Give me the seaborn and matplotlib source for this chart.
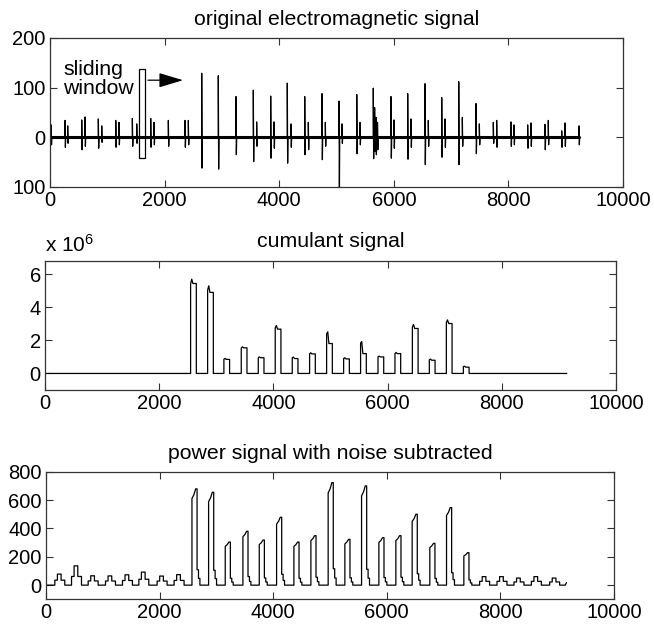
import numpy as np
import pandas as pd
import matplotlib
matplotlib.use("Agg")
import matplotlib.pyplot as plt
import seaborn as sns

# --- data ---
# top panel: spike trains of the raw signal (position, upward peak, downward peak)
big_x = [2647, 2937, 3246, 3548, 3851, 4141, 4445, 4747, 5044, 5353, 5642, 5951, 6242, 6544, 6836, 7133, 7435]
big_up = [129, 124, 82, 95, 83, 109, 82, 88, 73, 86, 99, 82, 88, 108, 80, 112, 68]
big_dn = [-62, -64, -35, -49, -42, -52, -35, -45, -120, -33, -43, -42, -44, -55, -40, -55, -33]

small_x = [20, 262, 308, 553, 611, 843, 902, 1147, 1204, 1437, 1513, 1757, 1815, 2065, 2356, 2414,
           3606, 3909, 4205, 4508, 4805, 5096, 5410, 5665, 5690, 5715, 6003, 6300, 6602, 6894, 7196,
           7493, 7737, 7795, 8045, 8098, 8336, 8394, 8638, 8696, 8930, 8988, 9232]
small_up = [25, 34, 23, 35, 41, 37, 23, 34, 30, 38, 27, 38, 30, 34, 34, 34,
            31, 31, 27, 30, 30, 27, 30, 60, 40, 30, 35, 37, 34, 37, 40,
            27, 30, 34, 31, 25, 25, 29, 26, 34, 13, 29, 23]
small_dn = [-15, -20, -12, -25, -18, -22, -10, -20, -15, -18, -12, -20, -15, -18, -20, -15,
            -18, -22, -20, -25, -18, -12, -15, -28, -35, -25, -22, -20, -18, -20, -18,
            -15, -12, -20, -18, -15, -22, -18, -25, -15, -20, -18, -15]
signal_end = 9232

# middle panel: cumulant pulses (x 10^6)
cum_rise = [2550, 2848, 3133, 3437, 3735, 4032, 4330, 4634, 4932, 5230, 5527, 5832, 6129, 6434, 6731, 7029, 7327]
cum_peak = [5.70, 5.30, 0.91, 1.61, 1.00, 2.90, 0.99, 1.25, 2.52, 0.95, 1.93, 1.05, 1.27, 2.96, 0.87, 3.24, 0.44]
cum_tail = [5.44, 4.90, 0.85, 1.55, 0.95, 2.68, 0.90, 1.18, 1.81, 0.88, 1.20, 1.00, 1.20, 2.72, 0.80, 3.02, 0.38]
cum_end = 9139

# bottom panel: power pulses
pow_rise = [2570, 2863, 3156, 3467, 3755, 4060, 4365, 4664, 4968, 5262, 5556, 5861, 6160, 6447, 6758, 7052, 7357]
pow_peak = [679, 655, 304, 380, 318, 479, 304, 349, 723, 323, 700, 335, 349, 500, 295, 547, 229]
bump_x = [246, 540, 833, 1138, 1437, 1725, 2047, 2346, 7725, 8031, 8330, 8636, 8958]
bump_h = [78, 136, 66, 65, 73, 92, 64, 74, 60, 60, 50, 60, 50]
pow_end = 9163

# pulse profiles (offset in samples, relative level)
cum_off = [0, 0, 20, 40, 100, 100]
pow_off = [0, 0, 35, 65, 90, 90, 115, 115, 140, 140]
pow_lvl = [0, 0.9, 0.94, 1.0, 1.0, 0.16, 0.16, 0.07, 0.07, 0]
bump_off = [-90, -90, -45, -45, 20, 20, 85, 85]
bump_lvl = [0, 0.45, 0.45, 1.0, 1.0, 0.45, 0.45, 0]

# --- build line tables ---
sx, sy = [], []
for x, u, d in sorted(zip(big_x + small_x, big_up + small_up, big_dn + small_dn)):
    sx += [x, x, x + 6, x + 12]
    sy += [0, u, d, 0]
spikes = pd.DataFrame({"x": sx, "y": sy})

cx, cy = [0], [0]
for r, p, t in zip(cum_rise, cum_peak, cum_tail):
    cx += [r + o for o in cum_off]
    cy += [0, 0.95 * p, p, t, t, 0]
cx.append(cum_end)
cy.append(0)
cumulant = pd.DataFrame({"x": cx, "y": cy})

events = [(r, h, pow_off, pow_lvl) for r, h in zip(pow_rise, pow_peak)]
events += [(b, h, bump_off, bump_lvl) for b, h in zip(bump_x, bump_h)]
px, py = [0], [0]
for c, h, off, lvl in sorted(events):
    px += [c + o for o in off]
    py += [h * l for l in lvl]
px += [pow_end - 20, pow_end]
py += [0, 18]
power = pd.DataFrame({"x": px, "y": py})

# --- style ---
sns.set_style("ticks")
plt.rcParams["font.family"] = ["Liberation Sans", "DejaVu Sans"]
plt.rcParams["mathtext.default"] = "regular"
plt.rcParams["xtick.direction"] = "in"
plt.rcParams["ytick.direction"] = "in"
plt.rcParams["text.color"] = "black"
plt.rcParams["xtick.labelcolor"] = "black"
plt.rcParams["ytick.labelcolor"] = "black"

fig = plt.figure(figsize=(6.54, 6.33), dpi=100)
ax1 = fig.add_axes([0.0765, 0.7046, 0.8761, 0.2354])
ax2 = fig.add_axes([0.0688, 0.3839, 0.8731, 0.2038])
ax3 = fig.add_axes([0.0703, 0.0532, 0.8685, 0.2016])

# top: raw signal
ax1.plot([0, signal_end], [0, 0], color="black", lw=2.2)
sns.lineplot(data=spikes, x="x", y="y", sort=False, estimator=None, color="black", lw=0.9, ax=ax1)
ax1.set_ylim(-100, 200)
ax1.set_yticks([-100, 0, 100, 200])
ax1.set_yticklabels(["100", "0", "100", "200"])
ax1.set_title("original electromagnetic signal", fontsize=15.3, pad=9, color="black")
ax1.add_patch(plt.Rectangle((1545, -42), 115, 180, fill=False, lw=0.9, ec="black"))
ax1.annotate("", xy=(2370, 115), xytext=(1660, 115),
             arrowprops=dict(arrowstyle="-|>,head_length=1.5,head_width=0.45", color="black", lw=0.9))
ax1.text(230, 117, "sliding\nwindow", fontsize=15.3, va="center", ha="left", linespacing=1.0)

# middle: cumulant
sns.lineplot(data=cumulant, x="x", y="y", sort=False, estimator=None, color="black", lw=0.9, ax=ax2)
ax2.set_ylim(-1, 6.8)
ax2.set_yticks([0, 2, 4, 6])
ax2.set_title("cumulant signal", fontsize=15.3, pad=10, color="black")
ax2.text(0, 1.04, "x 10$^{6}$", transform=ax2.transAxes, fontsize=15, ha="left", va="bottom")

# bottom: power
sns.lineplot(data=power, x="x", y="y", sort=False, estimator=None, color="black", lw=0.9, ax=ax3)
ax3.set_ylim(-100, 800)
ax3.set_yticks([0, 200, 400, 600, 800])
ax3.set_title("power signal with noise subtracted", fontsize=15.3, pad=9, color="black")

for ax in (ax1, ax2, ax3):
    ax.set_xlim(0, 10000)
    ax.set_xticks([0, 2000, 4000, 6000, 8000, 10000])
    ax.set_xlabel("")
    ax.set_ylabel("")
    ax.tick_params(top=True, right=True, length=5, width=0.8, labelsize=14.5, pad=3, color="#333333")
    for s in ax.spines.values():
        s.set_visible(True)
        s.set_linewidth(0.9)
        s.set_color("#333333")

fig.savefig("out.png", dpi=100, facecolor="white")
